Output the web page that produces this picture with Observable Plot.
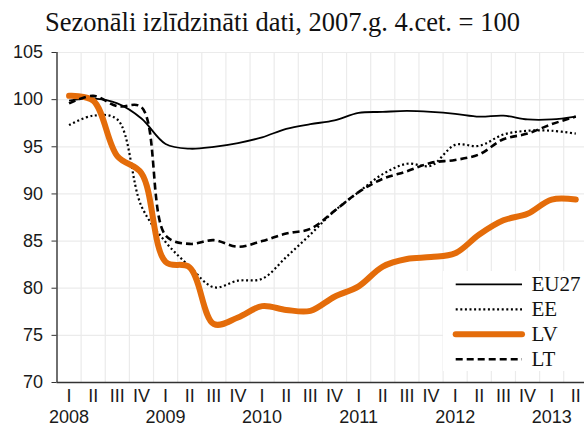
<!DOCTYPE html>
<html>
<head>
<meta charset="utf-8">
<script src="https://cdn.jsdelivr.net/npm/d3@7"></script>
<script src="https://cdn.jsdelivr.net/npm/@observablehq/plot@0.6"></script>
<style>
  html, body { margin: 0; padding: 0; background: #fff; }
  #wrap { position: relative; width: 584px; height: 426px; overflow: hidden; }
  #title { position: absolute; left: 45px; top: 9px; font-family: "Liberation Serif", serif; font-size: 26.5px; line-height: 1; color: #111; white-space: nowrap; }
  #chart { position: absolute; left: 0; top: 40px; }
  #chart svg { overflow: visible; }
  #legend { position: absolute; left: 443px; top: 271px; width: 141px; height: 100px; background: #fff; }
</style>
</head>
<body>
<div id="wrap">
  <div id="title">Sezonāli izlīdzināti dati, 2007.g. 4.cet. = 100</div>
  <div id="chart"></div>
  <div id="legend"></div>
</div>
<script>
// ---- data ----
const quarters = ["I", "II", "III", "IV"];
const years = ["2008", "2009", "2010", "2011", "2012", "2013"];
const seriesNames = ["EU27", "EE", "LV", "LT"];
const yTicks = [70, 75, 80, 85, 90, 95, 100, 105];

const eu27 = [99.9, 100.1, 99.6, 98.0, 95.3, 94.8, 95.0, 95.4, 96.0, 96.9, 97.4, 97.8, 98.6, 98.7, 98.8, 98.7, 98.5, 98.2, 98.3, 97.9, 97.9, 98.2];
const ee   = [97.3, 98.3, 97.9, 88.7, 84.9, 82.3, 80.1, 80.8, 81.0, 83.3, 85.7, 88.2, 90.2, 92.1, 93.2, 93.0, 95.2, 95.1, 96.3, 96.7, 96.7, 96.4];
const lv   = [100.4, 99.9, 94.0, 92.2, 82.8, 82.2, 76.2, 76.9, 78.1, 77.7, 77.6, 79.1, 80.2, 82.3, 83.1, 83.3, 83.7, 85.7, 87.2, 87.9, 89.4, 89.4];
const lt   = [99.6, 100.4, 99.3, 99.2, 85.6, 84.7, 85.1, 84.4, 85.0, 85.8, 86.3, 88.2, 90.2, 91.6, 92.4, 93.3, 93.6, 94.2, 95.8, 96.4, 97.4, 98.2];

// ---- styles ----
const styles = {
  EU27: { stroke: "#000", strokeWidth: 1.8, dash: null, cap: "butt" },
  EE:   { stroke: "#000", strokeWidth: 2.2, dash: "2,2.6", cap: "butt" },
  LV:   { stroke: "#E46C0A", strokeWidth: 6, dash: null, cap: "round" },
  LT:   { stroke: "#000", strokeWidth: 2.6, dash: "7,4", cap: "butt" }
};

const seriesValues = { EU27: eu27, EE: ee, LV: lv, LT: lt };
const nQ = eu27.length;
const qIdx = d3.range(nQ);
const centers = qIdx.map(i => i + 0.5);
const yearCenters = years.map((y, k) => k * 4 + 0.5);

const lineMarks = seriesNames.map(name => {
  const st = styles[name];
  const data = seriesValues[name].map((v, i) => ({ q: i + 0.5, v }));
  return Plot.line(data, {
    x: "q", y: "v",
    stroke: st.stroke, strokeWidth: st.strokeWidth,
    strokeDasharray: st.dash || undefined,
    strokeLinecap: st.cap, strokeLinejoin: "round",
    curve: "catmull-rom"
  });
});

const chart = Plot.plot({
  width: 584,
  height: 386,
  marginTop: 12,
  marginBottom: 44,
  marginLeft: 56.5,
  marginRight: 0,
  style: { fontFamily: "'Liberation Sans', Arial, sans-serif", fontSize: "18px", color: "#1a1a1a", background: "#fff" },
  x: { domain: [0, nQ], range: [56.5, 56.5 + nQ * 24.13], axis: null },
  y: { domain: [70, 105], axis: null },
  marks: [
    Plot.ruleY(yTicks.slice(1), { stroke: "#ebebeb", strokeWidth: 1.2 }),
    Plot.ruleX(d3.range(1, nQ + 1), { stroke: "#ebebeb", strokeWidth: 1.2 }),
    ...lineMarks,
    Plot.ruleX([0], { y1: 70, y2: 105, stroke: "#333", strokeWidth: 1.4 }),
    Plot.ruleY([70], { stroke: "#333", strokeWidth: 1.4 }),
    Plot.axisY({ ticks: yTicks, tickSize: 5, tickPadding: 9, tickFormat: d => String(d), stroke: "#333", fontSize: 18, label: null }),
    Plot.axisX({ ticks: centers, tickSize: 0, tickPadding: 6.5, tickFormat: d => quarters[Math.floor(d) % 4], fontSize: 18, label: null }),
    Plot.axisX({ ticks: yearCenters, tickSize: 0, tickPadding: 28, tickFormat: d => years[Math.floor(d / 4)], fontSize: 18, label: null })
  ]
});
document.getElementById("chart").appendChild(chart);

// ---- legend ----
const ns = "http://www.w3.org/2000/svg";
const lg = document.createElementNS(ns, "svg");
lg.setAttribute("width", 141);
lg.setAttribute("height", 100);
seriesNames.forEach((name, k) => {
  const st = styles[name];
  const yy = 13.3 + k * 25;
  const ln = document.createElementNS(ns, "line");
  ln.setAttribute("x1", 12.7); ln.setAttribute("x2", 79);
  ln.setAttribute("y1", yy); ln.setAttribute("y2", yy);
  ln.setAttribute("stroke", st.stroke);
  ln.setAttribute("stroke-width", st.strokeWidth);
  ln.setAttribute("stroke-linecap", st.cap);
  if (st.dash) ln.setAttribute("stroke-dasharray", st.dash);
  lg.appendChild(ln);
  const tx = document.createElementNS(ns, "text");
  tx.setAttribute("x", 88.5); tx.setAttribute("y", yy + 7);
  tx.setAttribute("font-family", "'Liberation Serif', serif");
  tx.setAttribute("font-size", 21);
  tx.setAttribute("fill", "#111");
  tx.textContent = name;
  lg.appendChild(tx);
});
document.getElementById("legend").appendChild(lg);
</script>
</body>
</html>
